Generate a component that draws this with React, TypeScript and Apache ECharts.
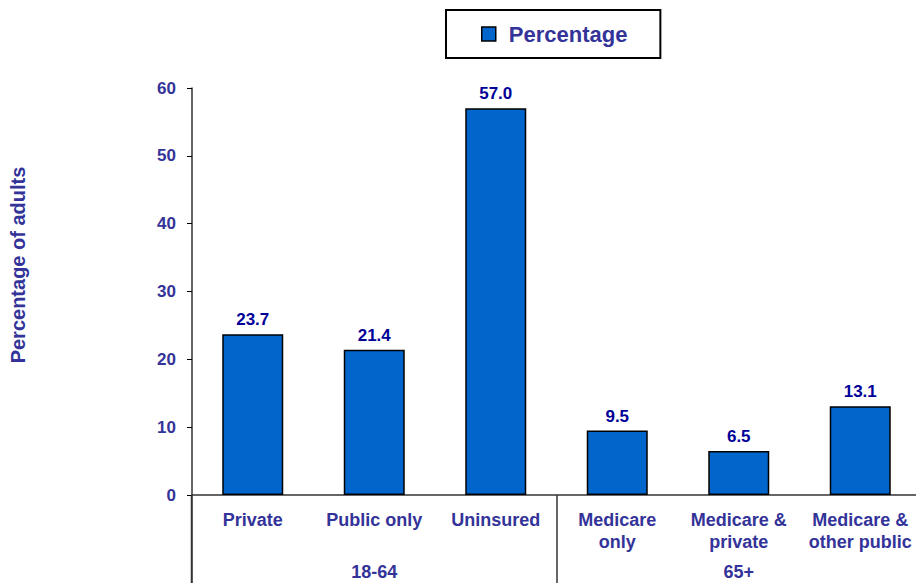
import React, { useEffect, useRef } from "react";
import * as echarts from "echarts";

const categories = ["Private", "Public only", "Uninsured", "Medicare\nonly", "Medicare &\nprivate", "Medicare &\nother public"];
const values = [23.7, 21.4, 57.0, 9.5, 6.5, 13.1];
const groups = ["18-64", "65+"];
const seriesName = "Percentage";
const yTitle = "Percentage of adults";

const FONT = "'Liberation Sans', Arial, sans-serif";
const TXT = "#333399";

export default function App() {
  const ref = useRef<HTMLDivElement>(null);
  useEffect(() => {
    const chart = echarts.init(ref.current!, null, { renderer: "svg" });
    chart.setOption({
      animation: false,
      textStyle: { fontFamily: FONT },
      legend: {
        data: [seriesName],
        left: 446,
        top: 10,
        padding: [12, 33, 12, 35],
        itemWidth: 14,
        itemHeight: 14,
        borderColor: "#000",
        borderWidth: 2,
        icon: "rect",
        itemStyle: { borderColor: "#000", borderWidth: 1.5 },
        textStyle: { fontFamily: FONT, fontSize: 22, fontWeight: "bold", color: TXT, padding: [0, 0, 0, 8], lineHeight: 24 },
      },
      grid: { left: 192, top: 88, width: 729, height: 407, containLabel: false },
      xAxis: [
        {
          type: "category",
          data: categories,
          axisLine: { show: true, lineStyle: { color: "#333", width: 1.5 } },
          axisTick: { show: false },
          axisLabel: { interval: 0, fontFamily: FONT, fontSize: 18, fontWeight: "bold", color: TXT, margin: 14, lineHeight: 22 },
        },
        {
          type: "category",
          data: groups,
          position: "bottom",
          offset: 88,
          axisLine: { show: false },
          axisTick: { show: true, inside: true, length: 88, lineStyle: { color: "#333", width: 1.5 } },
          axisLabel: { inside: true, interval: 0, fontFamily: FONT, fontSize: 18, fontWeight: "bold", color: TXT, margin: 2 },
        },
      ],
      yAxis: {
        type: "value",
        min: 0,
        max: 60,
        interval: 10,
        splitLine: { show: false },
        axisLine: { show: true, lineStyle: { color: "#333", width: 1.5 } },
        axisTick: { show: true, length: 5, lineStyle: { color: "#000" } },
        axisLabel: { fontFamily: FONT, fontSize: 17, fontWeight: "bold", color: TXT, margin: 16 },
      },
      graphic: [
        {
          type: "line",
          shape: { x1: 191.5, y1: 495, x2: 191.5, y2: 583 },
          style: { stroke: "#333", lineWidth: 1.5 },
        },
        {
          type: "text",
          x: 18,
          y: 265,
          rotation: Math.PI / 2,
          style: {
            text: yTitle,
            fontFamily: FONT,
            fontSize: 20,
            fontWeight: "bold",
            fill: TXT,
            align: "center",
            verticalAlign: "middle",
          },
        },
      ],
      series: [
        {
          name: seriesName,
          type: "bar",
          data: values,
          barWidth: 61,
          itemStyle: { color: "#0066CC", borderColor: "#000", borderWidth: 1.5 },
          label: {
            show: true,
            position: "top",
            distance: 6,
            formatter: (p: any) => Number(p.value).toFixed(1),
            fontFamily: FONT,
            fontSize: 17,
            fontWeight: "bold",
            color: "#000099",
          },
        },
      ],
    });
    return () => chart.dispose();
  }, []);
  return (
    <div style={{ position: "absolute", left: 0, top: 0, width: 916, height: 583, overflow: "hidden" }}>
      <div ref={ref} style={{ width: 930, height: 583 }} />
    </div>
  );
}
